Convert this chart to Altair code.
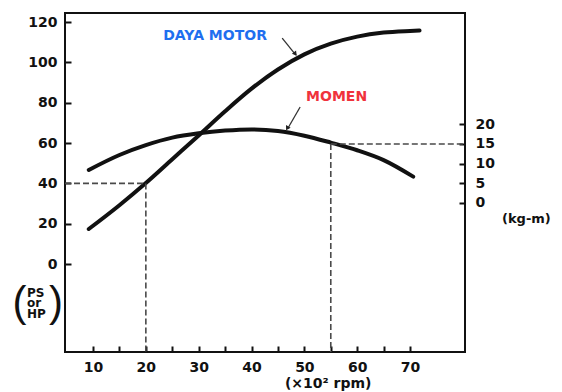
import altair as alt
import pandas as pd

# ---- data ----
power_rpm = [9.2, 15, 20, 25, 30, 35, 40, 45, 50, 55, 60, 65, 70, 71.8]
power_ps = [17.4, 29.2, 40.2, 52, 63.8, 75.8, 87, 96.5, 104, 109.3, 112.8, 114.8, 115.6, 115.8]

torque_rpm = [9.2, 15, 20, 25, 30, 35, 40, 45, 50, 55, 60, 65, 70.6]
torque_kgm = [8.4, 12.2, 14.7, 16.6, 17.7, 18.4, 18.7, 18.3, 17.1, 15.35, 13.4, 10.9, 6.7]

x_ticks = [10, 15, 20, 25, 30, 35, 40, 45, 50, 55, 60, 65, 70]
left_ticks = [0, 20, 40, 60, 80, 100, 120]
right_ticks = [0, 5, 10, 15, 20]

x_domain = [4.7, 80.4]
left_domain = [-43.6, 124.5]
right_domain = [-37.9, 48.3]

ref_rpm_power, ref_ps = 20, 40
ref_rpm_torque, ref_kgm = 55, 15

FONT = "DejaVu Sans"
INK = "#111111"

X = alt.Scale(domain=x_domain, nice=False, zero=False)
YL = alt.Scale(domain=left_domain, nice=False, zero=False)
YR = alt.Scale(domain=right_domain, nice=False, zero=False)

common_axis = dict(domain=False, grid=False, tickSize=6, tickWidth=2, tickColor=INK,
                   labelFont=FONT, labelFontWeight="bold", labelFontSize=14,
                   labelColor=INK, labelOverlap=False, labelFlush=False, title=None,
                   offset=-6)

x_axis = alt.Axis(values=x_ticks, labelExpr="datum.value % 10 == 0 ? datum.label : ''",
                  labelPadding=8, **common_axis)
yl_axis = alt.Axis(values=left_ticks, orient="left", labelPadding=8, **common_axis)
yr_axis = alt.Axis(values=right_ticks, orient="right", labelPadding=10, **common_axis)


def xe(field):
    return alt.X(field, scale=X, axis=x_axis)


def yle(field):
    return alt.Y(field, scale=YL, axis=yl_axis)


def yre(field):
    return alt.Y(field, scale=YR, axis=yr_axis)


power_df = pd.DataFrame({"rpm": power_rpm, "v": power_ps})
torque_df = pd.DataFrame({"rpm": torque_rpm, "v": torque_kgm})

power_line = alt.Chart(power_df).mark_line(
    color=INK, strokeWidth=4, interpolate="monotone", strokeCap="round"
).encode(x=xe("rpm:Q"), y=yle("v:Q"))

# dashed reference lines (left scale)
ldash = pd.DataFrame({
    "x": [x_domain[0], ref_rpm_power],
    "x2": [ref_rpm_power, ref_rpm_power],
    "y": [ref_ps, ref_ps],
    "y2": [ref_ps, left_domain[0]],
})
left_dash = alt.Chart(ldash).mark_rule(color="#4a4a4a", strokeWidth=1.6, strokeDash=[6, 3]).encode(
    x=xe("x:Q"), x2="x2:Q", y=yle("y:Q"), y2="y2:Q",
)

# annotations in left scale
ann = pd.DataFrame({
    "t": ["DAYA MOTOR", "MOMEN"],
    "x": [33.1, 56.1],
    "y": [113.0, 82.6],
    "c": ["#1f6fef", "#f0323c"],
})
ann_text = alt.Chart(ann).mark_text(font=FONT, fontWeight="bold", fontSize=14,
                                    baseline="middle", align="center").encode(
    x=xe("x:Q"), y=yle("y:Q"), text="t:N", color=alt.Color("c:N", scale=None),
)

arrows = pd.DataFrame({
    "x": [45.8, 49.2], "y": [112.0, 77.9],
    "x2": [48.4, 46.8], "y2": [103.6, 67.0],
})
arrow_lines = alt.Chart(arrows).mark_rule(color="#333333", strokeWidth=1.3).encode(
    x=xe("x:Q"), x2="x2:Q", y=yle("y:Q"), y2="y2:Q",
)
heads = pd.DataFrame({"x": [48.3, 46.75], "y": [104.2, 67.3], "a": [142, 209]})
arrow_heads = alt.Chart(heads).mark_point(shape="triangle-up", filled=True, size=28,
                                          color="#222222", opacity=1).encode(
    x=xe("x:Q"), y=yle("y:Q"), angle=alt.Angle("a:Q", scale=None),
)

unit_df = pd.DataFrame({"t": ["PS", "or", "HP"], "x": [-2.49] * 3, "y": [-16.2, -21.5, -26.9]})
unit_text = alt.Chart(unit_df).mark_text(font=FONT, fontWeight="bold", fontSize=12,
                                         baseline="alphabetic", align="left",
                                         color=INK).encode(
    x=xe("x:Q"), y=yle("y:Q"), text="t:N",
)
paren_df = pd.DataFrame({"t": ["(", ")"], "x": [-3.9, 3.0], "y": [-19.5, -19.5]})
paren_text = alt.Chart(paren_df).mark_text(font="Liberation Sans", fontSize=42,
                                           baseline="middle", align="center",
                                           color=INK).encode(
    x=xe("x:Q"), y=yle("y:Q"), text="t:N",
)

titles_df = pd.DataFrame({"t": ["(\u00d710\u00b2 rpm)", "(kg-m)"], "x": [54.5, 87.4],
                          "y": [-59.5, 22.3]})
xtitle = alt.Chart(titles_df.iloc[[0]]).mark_text(font=FONT, fontWeight="bold", fontSize=14,
                                                  baseline="middle", align="center",
                                                  color=INK).encode(
    x=xe("x:Q"), y=yle("y:Q"), text="t:N",
)
rtitle = alt.Chart(titles_df.iloc[[1]]).mark_text(font=FONT, fontWeight="bold", fontSize=13,
                                                  baseline="middle", align="left",
                                                  color=INK).encode(
    x=xe("x:Q"), y=yle("y:Q"), text="t:N",
)

left_group = alt.layer(power_line, left_dash, ann_text, arrow_lines, arrow_heads,
                       unit_text, paren_text, xtitle, rtitle)

torque_line = alt.Chart(torque_df).mark_line(
    color=INK, strokeWidth=4, interpolate="monotone", strokeCap="round"
).encode(x=xe("rpm:Q"), y=yre("v:Q"))
rdash = pd.DataFrame({
    "x": [ref_rpm_torque, ref_rpm_torque],
    "x2": [x_domain[1], ref_rpm_torque],
    "y": [ref_kgm, ref_kgm],
    "y2": [ref_kgm, right_domain[0]],
})
right_dash = alt.Chart(rdash).mark_rule(color="#4a4a4a", strokeWidth=1.6, strokeDash=[6, 3]).encode(
    x=xe("x:Q"), x2="x2:Q", y=yre("y:Q"), y2="y2:Q",
)
right_group = alt.layer(torque_line, right_dash)

chart = alt.layer(left_group, right_group).resolve_scale(y="independent").properties(
    width=400, height=339,
    autosize=alt.AutoSizeParams(type="none"),
    padding={"left": 57, "top": 5, "right": 89, "bottom": 44},
    background="white",
).configure_view(stroke=INK, strokeWidth=2)

chart.save("out.html", embed_options={"renderer": "svg", "actions": False})
